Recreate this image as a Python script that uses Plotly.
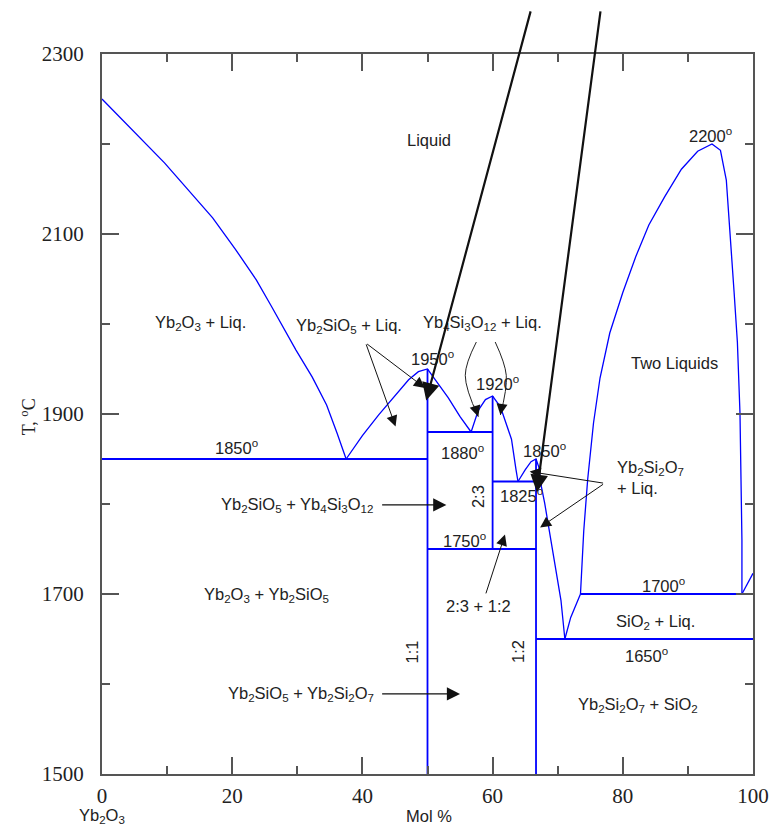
import plotly.graph_objects as go

# ---------------- data (mol % SiO2, temperature in deg C) ----------------
yb2o3_liq_x = [0, 5, 9.6, 13, 17, 20.5, 23.7, 26, 29.8, 32.3, 34.5, 36.1, 37.5]
yb2o3_liq_T = [2250, 2213, 2179, 2151, 2118, 2083, 2049, 2020, 1971, 1941, 1910, 1879, 1850]

yb2sio5_liq_x = [37.5, 40, 42.5, 45.6, 47.1, 48.6, 50, 50.9, 53.2, 55, 56.7]
yb2sio5_liq_T = [1850, 1876, 1899, 1925, 1938, 1947, 1950, 1941, 1918, 1897, 1880]

yb4si3o12_liq_x = [56.7, 57.8, 58.9, 60, 61.2, 62.9, 63.6, 63.9]
yb4si3o12_liq_T = [1880, 1904, 1916, 1920, 1908, 1872, 1838, 1825]

yb2si2o7_liq_x = [63.9, 65.0, 65.9, 66.67, 67.1, 67.5, 68.0, 68.5, 69.0, 69.7, 70.5, 71.1]
yb2si2o7_liq_T = [1825, 1838, 1847, 1850, 1841, 1819, 1801, 1779, 1762, 1730, 1693, 1650]

sio2_liq_x = [71.1, 72, 73.5]
sio2_liq_T = [1650, 1674, 1700]

gap_x = [73.5, 74.0, 74.6, 75.5, 76.5, 78.0, 80.0, 82.0, 84.0, 86.4, 89.0, 91.5, 93.7,
         95.0, 95.9, 96.5, 97.1, 97.6, 98.0, 98.3, 98.3]
gap_T = [1700, 1770, 1827, 1890, 1940, 1990, 2035, 2075, 2110, 2141, 2172, 2192, 2200,
         2193, 2160, 2101, 2035, 1980, 1901, 1760, 1700]

sio2_liq2_x = [98.3, 100]
sio2_liq2_T = [1700, 1723]

# invariant (horizontal) lines
iso_T = [1850, 1880, 1825, 1750, 1700, 1650]
iso_x0 = [0, 50, 60, 50, 73.5, 66.67]
iso_x1 = [50, 60, 66.67, 66.67, 100, 100]

# compound (vertical) lines: 1:1, 2:3, 1:2
comp_x = [50, 60, 66.67]
comp_T0 = [1500, 1750, 1500]
comp_T1 = [1950, 1920, 1850]

# region / temperature labels
label_text = ["Liquid", "2200<sup>o</sup>", "Two Liquids", "Yb<sub>2</sub>O<sub>3</sub> + Liq.",
              "1850<sup>o</sup>", "Yb<sub>2</sub>SiO<sub>5</sub> + Liq.",
              "Yb<sub>4</sub>Si<sub>3</sub>O<sub>12</sub> + Liq.",
              "1950<sup>o</sup>", "1920<sup>o</sup>", "1880<sup>o</sup>", "1850<sup>o</sup>",
              "1825<sup>o</sup>", "1750<sup>o</sup>",
              "Yb<sub>2</sub>SiO<sub>5</sub> + Yb<sub>4</sub>Si<sub>3</sub>O<sub>12</sub>",
              "Yb<sub>2</sub>O<sub>3</sub> + Yb<sub>2</sub>SiO<sub>5</sub>",
              "Yb<sub>2</sub>SiO<sub>5</sub> + Yb<sub>2</sub>Si<sub>2</sub>O<sub>7</sub>",
              "2:3 + 1:2", "1700<sup>o</sup>", "SiO<sub>2</sub> + Liq.", "1650<sup>o</sup>",
              "Yb<sub>2</sub>Si<sub>2</sub>O<sub>7</sub> + SiO<sub>2</sub>"]
label_x = [50.2, 93.4, 87.9, 15.1, 20.6, 37.9, 58.4, 50.8, 60.7, 55.4, 68.0, 64.5, 55.7,
           29.9, 25.3, 30.5, 57.9, 86.2, 85.0, 83.6, 82.3]
label_T = [2204, 2210, 1957, 2001, 1863, 1998, 2001, 1962, 1935, 1858, 1860, 1810, 1760,
           1799, 1699, 1589, 1687, 1710, 1669, 1632, 1577]

# rotated compound labels
rot_text = ["1:1", "2:3", "1:2"]
rot_x = [47.6, 57.8, 63.8]
rot_T = [1636, 1808, 1636]

# "Yb2Si2O7 + Liq." label (two lines, left aligned)
yb2si2o7_liq_label = "Yb<sub>2</sub>Si<sub>2</sub>O<sub>7</sub><br>+ Liq."
yb2si2o7_liq_label_xy = (78.8, 1830)

# straight pointer arrows
arrow_tail_x = [65.9, 76.6, 40.5, 40.5, 42.8, 42.8, 77.2, 77.2, 58.9]
arrow_tail_T = [2349, 2349, 1979, 1979, 1799, 1589, 1823, 1823, 1699]
arrow_tip_x = [49.8, 66.8, 45.1, 49.6, 52.9, 55.0, 65.7, 67.3, 61.9]
arrow_tip_T = [1915, 1813, 1886, 1929, 1799, 1589, 1836, 1774, 1766]
arrow_width = [2.2, 2.2, 1, 1, 1.2, 1.2, 1, 1, 1]

# curved pointer arrows (tail, bulge, tip)
curve1_x = [57.5, 55.8, 57.8]
curve1_T = [1980, 1943, 1897]
curve2_x = [60.4, 62.1, 61.2]
curve2_T = [1980, 1943, 1899]

x_ticks = [0, 20, 40, 60, 80, 100]
y_ticks = [1500, 1700, 1900, 2100, 2300]

BLUE = "#0000ff"
fig = go.Figure()

def add_line(xs, ys, width=1.3, color=BLUE, shape="linear"):
    fig.add_trace(go.Scatter(x=xs, y=ys, mode="lines", line=dict(color=color, width=width, shape=shape),
                             hoverinfo="skip", showlegend=False, cliponaxis=False))

for xs, ys in [(yb2o3_liq_x, yb2o3_liq_T), (yb2sio5_liq_x, yb2sio5_liq_T),
               (yb4si3o12_liq_x, yb4si3o12_liq_T), (yb2si2o7_liq_x, yb2si2o7_liq_T),
               (sio2_liq_x, sio2_liq_T), (gap_x, gap_T), (sio2_liq2_x, sio2_liq2_T)]:
    add_line(xs, ys)

for t, a, b in zip(iso_T, iso_x0, iso_x1):
    add_line([a, b], [t, t], width=1.8)
for x, a, b in zip(comp_x, comp_T0, comp_T1):
    add_line([x, x], [a, b], width=1.8)

# curved arrows bodies
add_line(curve1_x, curve1_T, width=1, color="#222", shape="spline")
add_line(curve2_x, curve2_T, width=1, color="#222", shape="spline")

TXT = dict(family="Liberation Sans, Arial, sans-serif", size=16.5, color="#222")
ann = []
for t, x, y in zip(label_text, label_x, label_T):
    ann.append(dict(x=x, y=y, text=t, showarrow=False, font=TXT))
for t, x, y in zip(rot_text, rot_x, rot_T):
    ann.append(dict(x=x, y=y, text=t, showarrow=False, font=TXT, textangle=-90))
ann.append(dict(x=yb2si2o7_liq_label_xy[0], y=yb2si2o7_liq_label_xy[1], text=yb2si2o7_liq_label,
                showarrow=False, font=TXT, xanchor="left", align="left"))

for tx, tt, hx, ht, w in zip(arrow_tail_x, arrow_tail_T, arrow_tip_x, arrow_tip_T, arrow_width):
    ann.append(dict(x=hx, y=ht, ax=tx, ay=tt, axref="x", ayref="y", xref="x", yref="y",
                    text="", showarrow=True, arrowhead=2, arrowsize=1.6 if w > 2 else 2.2,
                    arrowwidth=w, arrowcolor="#111"))

# heads of curved arrows
for xs, ys in [(curve1_x, curve1_T), (curve2_x, curve2_T)]:
    ann.append(dict(x=xs[2], y=ys[2], ax=xs[2] - (xs[2] - xs[1]) * 0.3, ay=ys[2] + (ys[1] - ys[2]) * 0.3,
                    axref="x", ayref="y", text="", showarrow=True, arrowhead=2, arrowsize=2.2,
                    arrowwidth=1, arrowcolor="#111"))

# axis end labels
ann.append(dict(x=0, y=-0.058, xref="x", yref="paper", text="Yb<sub>2</sub>O<sub>3</sub>",
                showarrow=False, font=TXT, xanchor="center", yanchor="middle"))
ann.append(dict(x=50.2, y=-0.058, xref="x", yref="paper", text="Mol %", showarrow=False, font=TXT,
                xanchor="center", yanchor="middle"))
ann.append(dict(x=100.3, y=-0.058, xref="x", yref="paper", text="SiO<sub>2</sub>",
                showarrow=False, font=TXT, xanchor="center", yanchor="middle"))
ann.append(dict(x=-0.113, y=0.496, xref="paper", yref="paper", text="T, <sup>o</sup>C",
                showarrow=False, textangle=-90, xanchor="center", yanchor="middle",
                font=dict(family="Liberation Serif, Times New Roman, serif", size=18, color="#222")))

AX = dict(showgrid=False, zeroline=False, showline=True, linecolor="#555", linewidth=2,
          mirror="ticks", ticks="inside", ticklen=17, tickwidth=2, tickcolor="#555",
          tickfont=dict(family="Liberation Serif, Times New Roman, serif", size=21, color="#222"))

# the page body adds an 8 px offset, so the figure is 8 px smaller and margins compensate
fig.update_layout(
    width=773, height=821,
    margin=dict(l=94, r=25, t=46, b=55),
    paper_bgcolor="white", plot_bgcolor="white",
    xaxis=dict(range=[0, 100], tickvals=x_ticks, ticktext=[str(v) for v in x_ticks],
               minor=dict(ticks="inside", ticklen=8, tickwidth=2, tickcolor="#555", dtick=10, tick0=0),
               ticklabelstandoff=2, **AX),
    yaxis=dict(range=[1500, 2300], tickvals=y_ticks, ticktext=[str(v) for v in y_ticks],
               minor=dict(ticks="inside", ticklen=8, tickwidth=2, tickcolor="#555", dtick=100, tick0=1500),
               ticklabelstandoff=12, **AX),
    annotations=ann,
)

fig.write_html("out.html")
